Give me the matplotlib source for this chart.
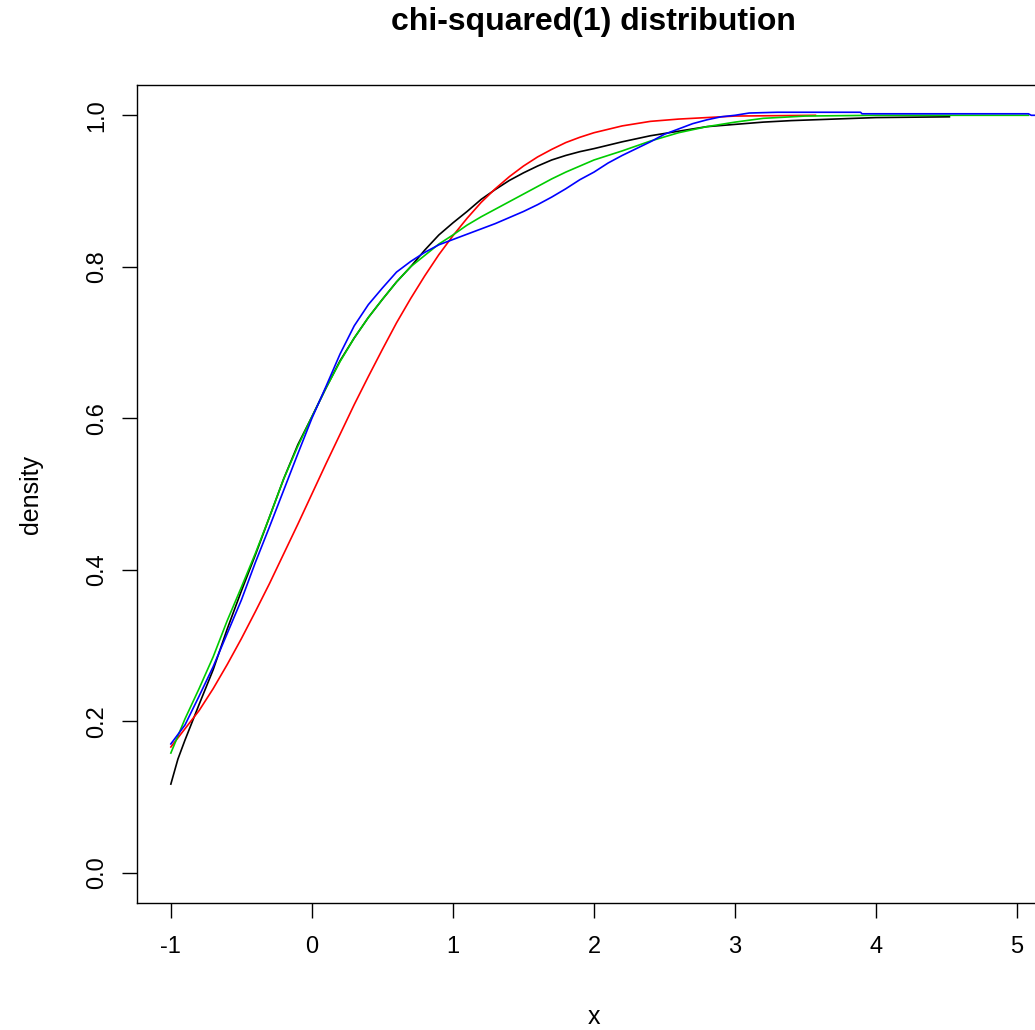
import matplotlib
matplotlib.use("Agg")
import matplotlib.pyplot as plt

plt.rcParams['font.family'] = ['Liberation Sans', 'DejaVu Sans']

# ---- data ----
black_x = [-1.0, -0.95, -0.9, -0.8, -0.7, -0.6, -0.5, -0.4, -0.3, -0.2, -0.1, 0.0, 0.1, 0.2, 0.3, 0.4,
           0.5, 0.6, 0.7, 0.8, 0.9, 1.0, 1.1, 1.2, 1.3, 1.4, 1.5, 1.6, 1.7, 1.8, 1.9, 2.0, 2.2, 2.4,
           2.6, 2.8, 3.0, 3.2, 3.4, 3.7, 4.0, 4.52]
black_y = [0.117, 0.15, 0.175, 0.222, 0.268, 0.322, 0.372, 0.42, 0.47, 0.52, 0.565, 0.602, 0.64, 0.676,
           0.706, 0.733, 0.757, 0.78, 0.80, 0.822, 0.842, 0.858, 0.873, 0.889, 0.902, 0.914, 0.924,
           0.933, 0.941, 0.947, 0.952, 0.956, 0.965, 0.973, 0.979, 0.985, 0.988, 0.991, 0.993,
           0.995, 0.997, 0.998]

red_x = [-1.0, -0.9, -0.8, -0.7, -0.6, -0.5, -0.4, -0.3, -0.2, -0.1, 0.0, 0.1, 0.2, 0.3, 0.4, 0.5,
         0.6, 0.7, 0.8, 0.9, 1.0, 1.1, 1.2, 1.3, 1.4, 1.5, 1.6, 1.7, 1.8, 1.9, 2.0, 2.2, 2.4, 2.6,
         2.8, 3.0, 3.3, 3.57]
red_y = [0.166, 0.19, 0.214, 0.243, 0.275, 0.309, 0.345, 0.382, 0.421, 0.46, 0.5, 0.54, 0.579,
         0.618, 0.655, 0.691, 0.726, 0.758, 0.788, 0.816, 0.841, 0.864, 0.885, 0.903, 0.919,
         0.933, 0.945, 0.955, 0.964, 0.971, 0.977, 0.986, 0.992, 0.995, 0.997, 0.999, 0.9995, 1.0]

green_x = [-1.0, -0.9, -0.8, -0.7, -0.6, -0.5, -0.4, -0.3, -0.2, -0.1, 0.0, 0.1, 0.2, 0.3, 0.4, 0.5,
           0.6, 0.7, 0.8, 0.9, 1.0, 1.1, 1.2, 1.3, 1.4, 1.5, 1.6, 1.7, 1.8, 1.9, 2.0, 2.2, 2.4, 2.6,
           2.8, 3.0, 3.2, 3.5, 4.0, 5.08]
green_y = [0.158, 0.203, 0.243, 0.285, 0.333, 0.377, 0.422, 0.47, 0.52, 0.563, 0.602, 0.64, 0.675,
           0.706, 0.733, 0.757, 0.78, 0.80, 0.815, 0.83, 0.842, 0.855, 0.866, 0.876, 0.886, 0.896,
           0.906, 0.916, 0.925, 0.933, 0.941, 0.953, 0.966, 0.977, 0.985, 0.991, 0.996, 0.999,
           1.0, 1.0]

blue_x = [-1.0, -0.9, -0.8, -0.7, -0.6, -0.5, -0.4, -0.3, -0.2, -0.1, 0.0, 0.1, 0.2, 0.3, 0.4, 0.5,
          0.6, 0.7, 0.8, 0.9, 1.0, 1.1, 1.2, 1.3, 1.4, 1.5, 1.6, 1.7, 1.8, 1.9, 2.0, 2.1, 2.2, 2.3,
          2.4, 2.5, 2.6, 2.7, 2.8, 2.9, 3.0, 3.1, 3.3, 3.89, 3.9, 5.08, 5.1, 5.24]
blue_y = [0.170, 0.195, 0.233, 0.272, 0.316, 0.36, 0.41, 0.457, 0.505, 0.553, 0.60, 0.642, 0.685,
          0.722, 0.75, 0.772, 0.793, 0.807, 0.819, 0.829, 0.836, 0.843, 0.85, 0.857, 0.865, 0.873,
          0.882, 0.892, 0.903, 0.915, 0.925, 0.937, 0.947, 0.956, 0.965, 0.975, 0.982, 0.989,
          0.994, 0.998, 1.0, 1.003, 1.004, 1.004, 1.002, 1.002, 1.0, 1.0]

x_ticks = [-1, 0, 1, 2, 3, 4, 5]
y_ticks = [0.0, 0.2, 0.4, 0.6, 0.8, 1.0]
y_tick_labels = ["0.0", "0.2", "0.4", "0.6", "0.8", "1.0"]

W, H = 1035, 1030
fig = plt.figure(figsize=(W / 100, H / 100), dpi=100)
ax = fig.add_axes([137 / W, 1 - 903 / H, (1051 - 137) / W, (903 - 85) / H])

lw = 1.2
ax.plot(black_x, black_y, color='black', lw=lw)
ax.plot(red_x, red_y, color='red', lw=lw)
ax.plot(green_x, green_y, color='#00cc00', lw=lw)
ax.plot(blue_x, blue_y, color='blue', lw=lw)

ax.set_xlim(-1.24, 5.24)
ax.set_ylim(-0.04, 1.04)
ax.set_xticks(x_ticks)
ax.set_xticklabels([str(t) for t in x_ticks])
ax.set_yticks(y_ticks)
ax.set_yticklabels(y_tick_labels, rotation=90, va='center')
ax.tick_params(direction='out', length=10.8, width=1.0, labelsize=17, pad=13)
ax.tick_params(axis='y', pad=10)
for s in ax.spines.values():
    s.set_linewidth(1.0)

ax.set_xlabel('x', fontsize=18, labelpad=34)
ax.set_ylabel('density', fontsize=18, labelpad=31)
fig.text(593 / W, 1 - 22 / H, 'chi-squared(1) distribution', ha='center', va='center',
         fontsize=23, fontweight='bold')

fig.savefig('out.png', dpi=100)
